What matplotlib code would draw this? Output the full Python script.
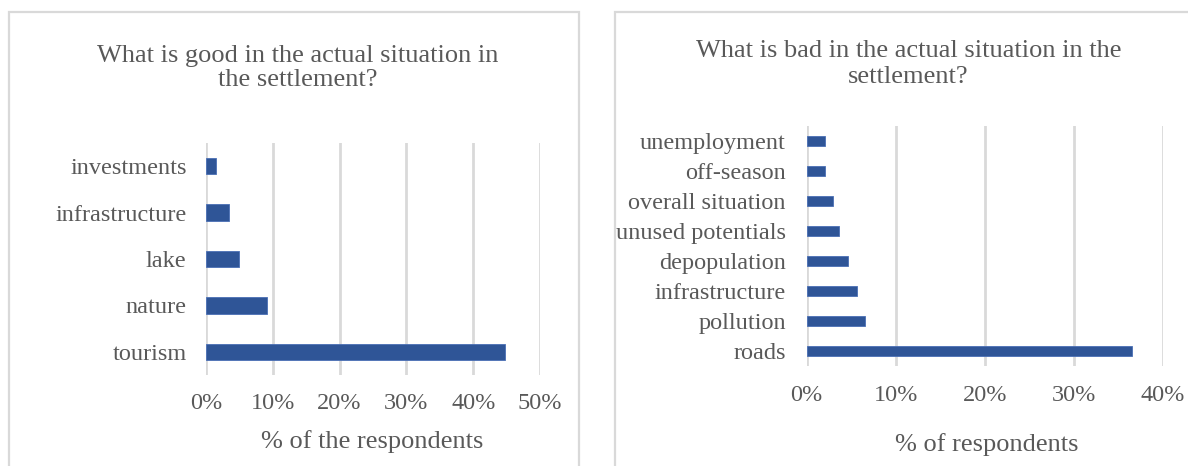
import matplotlib
matplotlib.use("Agg")
import matplotlib.pyplot as plt
from matplotlib.patches import Rectangle
from matplotlib.ticker import FuncFormatter

# ---- data ----
good_categories = ["tourism", "nature", "lake", "infrastructure", "investments"]
good_values = [44.7, 9.1, 5.0, 3.5, 1.5]
good_ticks = [0, 10, 20, 30, 40, 50]

bad_categories = ["roads", "pollution", "infrastructure", "depopulation",
                  "unused potentials", "overall situation", "off-season", "unemployment"]
bad_values = [36.5, 6.6, 5.6, 4.6, 3.6, 3.0, 2.0, 2.0]
bad_ticks = [0, 10, 20, 30, 40]

title_good = "What is good in the actual situation in\nthe settlement?"
title_bad = "What is bad in the actual situation in the\nsettlement?"
xlabel_good = "% of the respondents"
xlabel_bad = "% of respondents"

# ---- style ----
W, H = 1188, 466
DPI = 100
TEXT = "#595959"
GRID = "#d9d9d9"
BAR = "#2F5597"
FONT = "Liberation Serif"

plt.rcParams["font.family"] = [FONT, "DejaVu Serif"]

fig = plt.figure(figsize=(W / DPI, H / DPI), dpi=DPI)
fig.patch.set_facecolor("white")


def px_axes(x0, y0, x1, y1):
    return fig.add_axes([x0 / W, 1 - y1 / H, (x1 - x0) / W, (y1 - y0) / H])


def style(ax, cats, vals, ticks, bar_h, ypad, xpad):
    ys = range(len(cats))
    ax.barh(list(ys), vals, height=bar_h, color=BAR, edgecolor="#4a6fb5",
            linewidth=0.6, zorder=3)
    ax.set_yticks(list(ys))
    ax.set_yticklabels(cats)
    ax.set_ylim(-0.5, len(cats) - 0.5)
    ax.set_xlim(ticks[0], ticks[-1])
    ax.set_xticks(ticks)
    ax.xaxis.set_major_formatter(FuncFormatter(lambda v, p: f"{v:.0f}%"))
    for s in ax.spines.values():
        s.set_visible(False)
    ax.grid(axis="x", color=GRID, linewidth=2.0, zorder=0)
    ax.tick_params(axis="both", length=0, labelsize=17.5, labelcolor=TEXT)
    ax.tick_params(axis="y", pad=ypad)
    ax.tick_params(axis="x", pad=xpad)
    ax.set_facecolor("none")


# chart frames (bottom / right edges run past the picture)
fig.patches.append(Rectangle((8.5 / W, -0.05), (578.5 - 8.5) / W, 1.05 - 11.7 / H,
                             transform=fig.transFigure, fill=False,
                             edgecolor=GRID, linewidth=1.6))
fig.patches.append(Rectangle((615 / W, -0.05), (W + 10 - 615) / W, 1.05 - 11.7 / H,
                             transform=fig.transFigure, fill=False,
                             edgecolor=GRID, linewidth=1.6))

ax1 = px_axes(206, 143, 540, 375)
style(ax1, good_categories, good_values, good_ticks, 0.35, 14, 13)

ax2 = px_axes(806.7, 126, 1162.7, 366)
style(ax2, bad_categories, bad_values, bad_ticks, 0.33, 15, 14)

fig.text(298 / W, 1 - 68 / H, title_good, ha="center", va="center",
         fontsize=19, color=TEXT, linespacing=1.15, multialignment="center")
fig.text(908.5 / W, 1 - 64 / H, title_bad, ha="center", va="center",
         fontsize=19, color=TEXT, linespacing=1.2, multialignment="center")

fig.text(372 / W, 1 - 442 / H, xlabel_good, ha="center", va="center",
         fontsize=19, color=TEXT)
fig.text(987 / W, 1 - 445 / H, xlabel_bad, ha="center", va="center",
         fontsize=19, color=TEXT)

fig.savefig("out.png", dpi=DPI, facecolor="white")
